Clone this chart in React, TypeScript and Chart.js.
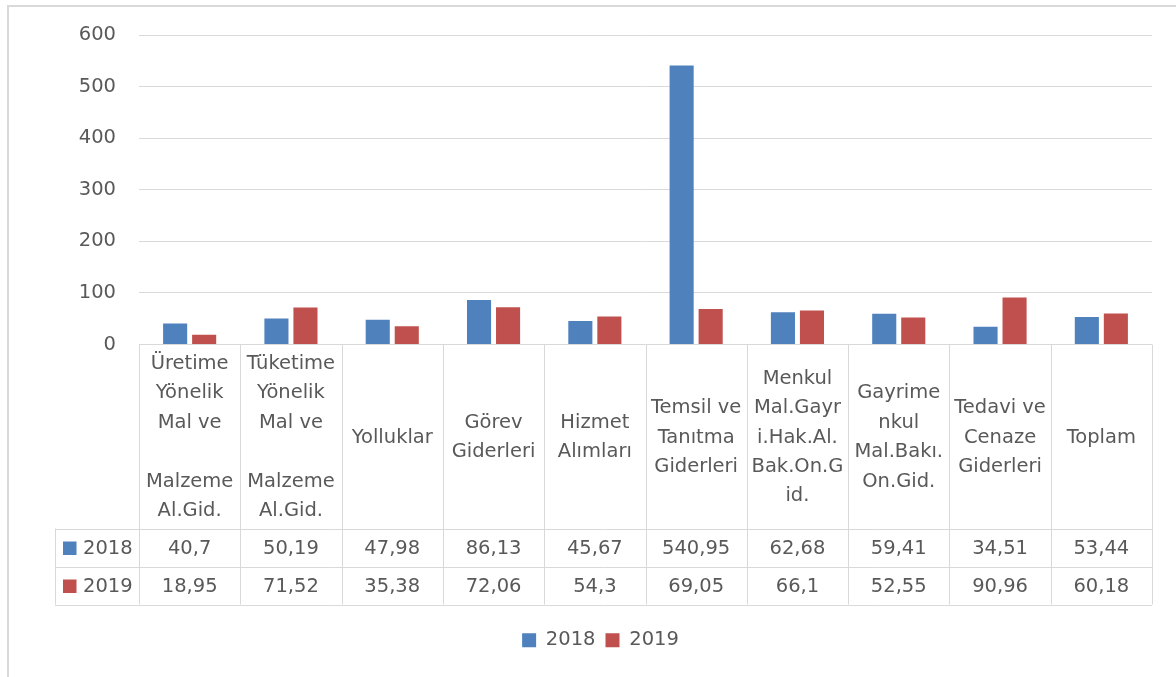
import React, { useEffect, useRef } from "react";
import { Chart, registerables } from "chart.js";

Chart.register(...registerables);

// ---- data ----
const categories: string[][] = [
  ["Üretime", "Yönelik", "Mal ve", "", "Malzeme", "Al.Gid."],
  ["Tüketime", "Yönelik", "Mal ve", "", "Malzeme", "Al.Gid."],
  ["Yolluklar"],
  ["Görev", "Giderleri"],
  ["Hizmet", "Alımları"],
  ["Temsil ve", "Tanıtma", "Giderleri"],
  ["Menkul", "Mal.Gayr", "i.Hak.Al.", "Bak.On.G", "id."],
  ["Gayrime", "nkul", "Mal.Bakı.", "On.Gid."],
  ["Tedavi ve", "Cenaze", "Giderleri"],
  ["Toplam"],
];
const values2018 = [40.7, 50.19, 47.98, 86.13, 45.67, 540.95, 62.68, 59.41, 34.51, 53.44];
const values2019 = [18.95, 71.52, 35.38, 72.06, 54.3, 69.05, 66.1, 52.55, 90.96, 60.18];
const seriesNames = ["2018", "2019"];
const seriesColors = ["#4F81BD", "#C0504D"];
const yMin = 0;
const yMax = 600;
const yStep = 100;

// ---- styles ----
const FONT_FAMILY = "'DejaVu Sans', sans-serif";
const FONT_SIZE = 19.5;
const TEXT_COLOR = "#595959";
const GRID_COLOR = "#d9d9d9";
const LEGEND_SHIFT = 24.5;

const fmt = (v: number) => String(v).replace(".", ",");

const framePlugin = {
  id: "frame",
  beforeDraw(chart: any) {
    const ctx = chart.ctx;
    ctx.save();
    ctx.fillStyle = "#ffffff";
    ctx.fillRect(0, 0, chart.width, chart.height);
    ctx.fillStyle = GRID_COLOR;
    ctx.fillRect(7, 5, chart.width - 7, 2);
    ctx.fillRect(7, 5, 2, chart.height - 5);
    ctx.restore();
  },
};

const legendShiftPlugin = {
  id: "legendShift",
  afterLayout(chart: any) {
    const lg = chart.legend;
    if (lg) {
      lg.left += LEGEND_SHIFT;
      lg.right += LEGEND_SHIFT;
    }
  },
};

const tablePlugin = {
  id: "dataTable",
  afterDraw(chart: any) {
    const ctx = chart.ctx;
    const xs = chart.scales.x;
    const n = categories.length;
    const colW = (xs.right - xs.left) / n;
    const top = xs.top;
    const headerH = 184;
    const rowH = 38;
    const tableLeft = 55;
    const bottom = top + headerH + rowH * 2;
    const px = (v: number) => Math.round(v) + 0.5;

    ctx.save();
    ctx.strokeStyle = GRID_COLOR;
    ctx.lineWidth = 1;
    ctx.beginPath();
    for (let i = 0; i <= n; i++) {
      const x = px(xs.left + i * colW);
      ctx.moveTo(x, top);
      ctx.lineTo(x, bottom);
    }
    ctx.moveTo(px(tableLeft), top + headerH);
    ctx.lineTo(px(tableLeft), bottom);
    for (let r = 0; r <= 2; r++) {
      const y = px(top + headerH + r * rowH);
      ctx.moveTo(tableLeft, y);
      ctx.lineTo(xs.right, y);
    }
    ctx.stroke();

    ctx.font = `${FONT_SIZE}px ${FONT_FAMILY}`;
    ctx.fillStyle = TEXT_COLOR;
    ctx.textAlign = "center";
    ctx.textBaseline = "middle";
    const lineH = 29.4;
    const headerCenter = top + headerH / 2 + 1;
    categories.forEach((lines, i) => {
      const cx = xs.getPixelForValue(i);
      const y0 = headerCenter - ((lines.length - 1) * lineH) / 2;
      lines.forEach((t, k) => {
        if (t) ctx.fillText(t, cx, y0 + k * lineH);
      });
    });

    const rows = [values2018, values2019];
    rows.forEach((vals, r) => {
      const cy = top + headerH + r * rowH + rowH / 2 + 1;
      vals.forEach((v, i) => {
        ctx.fillText(fmt(v), xs.getPixelForValue(i), cy);
      });
      ctx.fillStyle = seriesColors[r];
      ctx.fillRect(63, cy - 7, 13.5, 13.5);
      ctx.fillStyle = TEXT_COLOR;
      ctx.textAlign = "left";
      ctx.fillText(seriesNames[r], 83, cy);
      ctx.textAlign = "center";
    });
    ctx.restore();
  },
};

export default function App() {
  const ref = useRef<HTMLCanvasElement | null>(null);

  useEffect(() => {
    if (!ref.current) return;
    const chart = new Chart(ref.current, {
      type: "bar",
      data: {
        labels: categories,
        datasets: [
          {
            label: seriesNames[0],
            data: values2018,
            backgroundColor: seriesColors[0],
            categoryPercentage: 0.573,
            barPercentage: 0.83,
          },
          {
            label: seriesNames[1],
            data: values2019,
            backgroundColor: seriesColors[1],
            categoryPercentage: 0.573,
            barPercentage: 0.83,
          },
        ],
      },
      options: {
        responsive: false,
        animation: false,
        devicePixelRatio: 1,
        layout: { padding: { top: 35, right: 24, bottom: 17, left: 0 } },
        plugins: {
          tooltip: { enabled: false },
          legend: {
            position: "bottom",
            labels: {
              boxWidth: 14,
              boxHeight: 14,
              padding: 10,
              color: TEXT_COLOR,
              font: { family: FONT_FAMILY, size: FONT_SIZE },
            },
          },
        },
        scales: {
          x: {
            grid: { display: false },
            border: { display: false },
            ticks: { display: false },
            afterFit(scale: any) {
              scale.height = 276;
            },
          },
          y: {
            min: yMin,
            max: yMax,
            ticks: {
              stepSize: yStep,
              padding: 23,
              color: TEXT_COLOR,
              font: { family: FONT_FAMILY, size: FONT_SIZE },
            },
            grid: { color: GRID_COLOR, drawTicks: false },
            border: { display: false },
            afterFit(scale: any) {
              scale.width = 139;
            },
          },
        },
      },
      plugins: [framePlugin, legendShiftPlugin, tablePlugin],
    } as any);
    return () => chart.destroy();
  }, []);

  return (
    <div style={{ position: "fixed", left: 0, top: 0, width: 1176, height: 677 }}>
      <canvas ref={ref} width={1176} height={677} style={{ display: "block" }} />
    </div>
  );
}
